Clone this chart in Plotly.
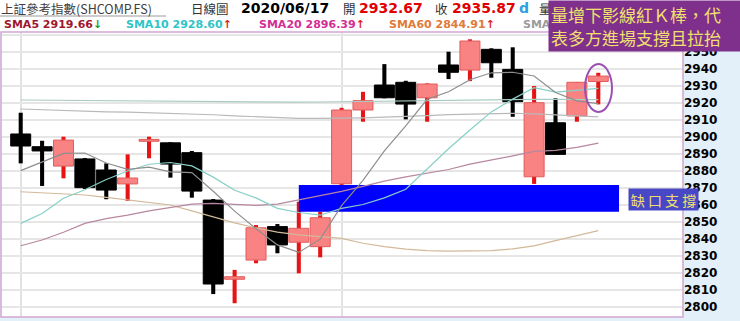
import plotly.graph_objects as go

# ---------------- data ----------------
idx = list(range(28))
opens = [2901.8, 2894.3, 2882.9, 2887.1, 2880.6, 2872.4, 2897.5, 2896.6, 2890.8, 2862.9,
         2816.3, 2827.6, 2847.3, 2838.1, 2835.5, 2872.5, 2915.9, 2930.6, 2932.2, 2923.1,
         2942.4, 2939.4, 2951.6, 2939.8, 2876.6, 2908.4, 2912.4, 2932.67]
highs = [2914.3, 2897.8, 2900.2, 2887.6, 2884.5, 2889.8, 2900.2, 2896.9, 2891.8, 2863.5,
         2821.8, 2848.2, 2848.8, 2861.9, 2856.1, 2917.2, 2926.6, 2942.9, 2933.1, 2931.6,
         2950.2, 2957.5, 2952.2, 2952.8, 2930.0, 2922.8, 2932.4, 2937.8]
lows = [2884.5, 2871.2, 2875.7, 2869.4, 2863.4, 2862.4, 2887.5, 2876.1, 2864.3, 2807.6,
        2802.2, 2825.7, 2831.6, 2819.8, 2829.2, 2871.8, 2909.0, 2922.8, 2910.4, 2909.0,
        2934.1, 2932.9, 2934.9, 2911.9, 2872.4, 2889.8, 2909.0, 2919.2]
closes = [2894.7, 2891.8, 2898.2, 2870.2, 2868.8, 2875.9, 2898.6, 2884.1, 2868.2, 2813.5,
          2817.8, 2846.6, 2836.5, 2846.3, 2852.5, 2915.9, 2921.4, 2923.1, 2919.4, 2931.2,
          2938.1, 2956.5, 2943.7, 2920.8, 2920.2, 2889.8, 2932.2, 2935.87]

sma5 = [2880.2, 2885.3, 2890.4, 2890.6, 2884.7, 2881.0, 2882.3, 2879.5, 2879.1, 2868.1,
        2856.4, 2846.0, 2836.5, 2832.1, 2839.9, 2859.6, 2874.5, 2891.8, 2906.5, 2922.2,
        2926.6, 2933.7, 2937.8, 2938.1, 2935.9, 2926.2, 2921.3, 2919.66]
sma10 = [2849.2, 2855.0, 2864.0, 2869.0, 2875.0, 2880.0, 2884.0, 2885.0, 2883.0, 2876.4,
         2868.7, 2864.2, 2858.0, 2855.6, 2854.0, 2858.0, 2860.3, 2864.2, 2869.3, 2881.1,
         2893.1, 2904.1, 2914.8, 2922.3, 2929.0, 2926.4, 2927.5, 2928.60]
sma20 = [2836.0, 2839.4, 2844.0, 2849.2, 2852.0, 2854.0, 2856.5, 2858.5, 2860.5, 2861.0,
         2860.6, 2859.8, 2860.5, 2863.0, 2865.5, 2868.0, 2871.0, 2874.0, 2876.5, 2878.7,
         2880.9, 2884.1, 2886.4, 2888.9, 2891.5, 2892.2, 2893.9, 2896.39]
sma60 = [2867.8, 2867.3, 2866.6, 2865.9, 2864.5, 2863.0, 2861.5, 2860.0, 2856.5, 2853.0,
         2849.5, 2846.5, 2844.0, 2842.4, 2841.2, 2840.4, 2837.5, 2835.5, 2834.0, 2833.2,
         2832.9, 2832.9, 2833.2, 2834.2, 2836.0, 2839.0, 2842.0, 2844.91]
sma120 = [2916.5, 2916.0, 2915.5, 2915.2, 2914.8, 2914.6, 2914.3, 2914.0, 2913.6, 2913.1,
          2912.4, 2911.8, 2911.3, 2911.0, 2911.0, 2911.0, 2911.3, 2911.7, 2912.0, 2912.6,
          2913.2, 2913.6, 2913.9, 2914.0, 2913.6, 2913.0, 2912.4, 2911.9]
sma240 = [2921.8, 2921.7, 2921.6, 2921.4, 2921.3, 2921.2, 2921.1, 2921.0, 2920.8, 2920.6,
          2920.4, 2920.4, 2920.4, 2920.5, 2920.6, 2920.8, 2921.0, 2921.2, 2921.4, 2921.6,
          2921.8, 2922.0, 2922.1, 2922.2, 2922.2, 2922.2, 2922.1, 2922.0]

month_lines = [0, 15]            # vertical separators
gap_start_idx = 13               # gap-support band starts here
gap_end_idx = 27.97
gap_bottom = highs[14]
gap_top = lows[15]

y_grid = list(range(2800, 2961, 10))
y_ticktext = [str(v) if v <= 2950 else "" for v in y_grid]

title_text = "上証參考指數(SHCOMP.FS)"
chart_type = "日線圖"
date_text = "2020/06/17"
open_label, open_val = "開", "2932.67"
close_label, close_val = "收", "2935.87"
vol_text = "量"
sma_labels = [("SMA5 2919.66", "↓", "#a0162c", "#2a9a2a"),
              ("SMA10 2928.60", "↑", "#2ec4c8", "#e02020"),
              ("SMA20 2896.39", "↑", "#d42e96", "#e02020"),
              ("SMA60 2844.91", "↑", "#e07a38", "#e02020"),
              ("SMA", "", "#9a9a9a", "#e02020")]
sma_label_x = [3, 125, 258, 388, 522]
note_main = "量增下影線紅Ｋ棒，代<br>表多方進場支撐且拉抬"
note_gap = "缺 口 支 撐"

# ---------------- geometry helpers ----------------
W, H = 740, 321
ML, MR, MT, MB = 1, 57, 32, 4
PW, PH = W - ML - MR, H - MT - MB


def px(xp):
    return (xp - ML) / PW


def py(yp):
    return (H - MB - yp) / PH


up = [c >= o for o, c in zip(opens, closes)]

fig = go.Figure()

# wicks
for flag, col in ((True, "#e61414"), (False, "#000000")):
    xs = [i for i in idx if up[i] == flag]
    fig.add_trace(go.Bar(x=xs, base=[lows[i] for i in xs],
                         y=[highs[i] - lows[i] for i in xs], width=0.19,
                         marker=dict(color=col, line=dict(width=0)), hoverinfo="skip"))
# bodies
for flag, col, lc in ((True, "#f98282", "#e25c5c"), (False, "#000000", "#000000")):
    xs = [i for i in idx if up[i] == flag]
    fig.add_trace(go.Bar(x=xs, base=[min(opens[i], closes[i]) for i in xs],
                         y=[max(abs(closes[i] - opens[i]), 0.7) for i in xs], width=0.935,
                         marker=dict(color=col, line=dict(width=1, color=lc)), hoverinfo="skip"))

# gap support band
fig.add_trace(go.Scatter(x=[gap_start_idx, gap_end_idx, gap_end_idx, gap_start_idx, gap_start_idx],
                         y=[gap_bottom, gap_bottom, gap_top, gap_top, gap_bottom],
                         mode="lines", fill="toself", fillcolor="#0000ff",
                         line=dict(width=0, color="#0000ff"), hoverinfo="skip"))

# moving averages
for ys, col in ((sma240, "#a9cbc3"), (sma120, "#b9b9b9"), (sma60, "#d2b999"),
                (sma20, "#b7879f"), (sma10, "#86d0c6"), (sma5, "#8e8e8e")):
    fig.add_trace(go.Scatter(x=idx, y=ys, mode="lines", line=dict(color=col, width=1.2),
                             hoverinfo="skip"))

shapes = [
    # white header strip
    dict(type="rect", xref="paper", yref="paper", x0=px(0), x1=px(W), y0=1, y1=py(0),
         fillcolor="white", line=dict(width=0), layer="below"),
    # plot border
    dict(type="rect", xref="paper", yref="paper", x0=0, x1=1, y0=0, y1=1,
         line=dict(color="#d4a6d4", width=1.5), layer="above"),
    # title underline
    dict(type="line", xref="paper", yref="paper", x0=px(0), x1=px(166), y0=py(16), y1=py(16),
         line=dict(color="#9a9a9a", width=1)),
    # ellipse around the last candle
    dict(type="circle", xref="x", yref="y", x0=idx[-1] - 0.62, x1=idx[-1] + 0.64,
         y0=lows[-1] - 4.5, y1=highs[-1] + 5.1, line=dict(color="#9a4fb2", width=2), layer="above"),
]

ann = []
cjk = "Noto Sans CJK TC"
lat = "DejaVu Sans"


def text_at(x, y, t, size, color, family, bold=False):
    ann.append(dict(xref="paper", yref="paper", x=px(x), y=py(y), xanchor="left", yanchor="middle",
                    text=t, showarrow=False, borderpad=0,
                    font=dict(size=size, color=color, family=family, weight="bold" if bold else "normal")))


text_at(0, 8.5, title_text, 12.5, "#404040", cjk)
text_at(190, 8.5, chart_type, 12.5, "#333333", cjk)
text_at(240, 8.5, date_text, 14, "#000000", lat, True)
text_at(342, 8.5, open_label, 12.5, "#333333", cjk)
text_at(358, 8.5, open_val, 14, "#e00000", lat, True)
text_at(434, 8.5, close_label, 12.5, "#333333", cjk)
text_at(451, 8.5, close_val, 14, "#e00000", lat, True)
text_at(518, 8.5, "d", 14, "#2ca0e0", lat, True)
text_at(538, 8.5, vol_text, 12.5, "#333333", cjk)

for (lab, arrow, col, acol), xl in zip(sma_labels, sma_label_x):
    t = f"{lab}<span style='color:{acol}'>{arrow}</span>" if arrow else lab
    text_at(xl, 25, t, 11, col, lat, True)

# annotation boxes
ann.append(dict(xref="paper", yref="paper", x=px(548), y=py(0), xanchor="left", yanchor="top",
                width=188, height=46, borderpad=2, bgcolor="#7f308d", align="left", valign="middle",
                text=note_main, showarrow=False,
                font=dict(size=17, color="#f1e06e", family=cjk)))
ann.append(dict(xref="paper", yref="paper", x=px(627.7), y=py(188.3), xanchor="left", yanchor="top",
                width=67, height=19, borderpad=1, bgcolor="#4848c6", align="center", valign="middle",
                text=note_gap, showarrow=False,
                font=dict(size=14, color="#f1e06e", family=cjk)))

fig.update_layout(
    width=W, height=H, autosize=False,
    margin=dict(l=ML, r=MR, t=MT, b=MB, pad=0),
    paper_bgcolor="#e3eff9", plot_bgcolor="white",
    barmode="overlay", showlegend=False, hovermode=False,
    shapes=shapes, annotations=ann,
    xaxis=dict(range=[-0.921, 30.96], tickvals=month_lines, showticklabels=False, showgrid=True,
               gridcolor="#e2e2e2", gridwidth=1.5, zeroline=False, showline=False, fixedrange=True),
    yaxis=dict(side="right", range=[2794.1, 2961.8], tickvals=y_grid, ticktext=y_ticktext,
               showgrid=True, gridcolor="#e6e6e6", gridwidth=1.5, zeroline=False, showline=False,
               ticks="", tickfont=dict(family=lat, size=12, color="#000000", weight="bold"),
               fixedrange=True),
)

fig.write_html("out.html", config={"displayModeBar": False})
